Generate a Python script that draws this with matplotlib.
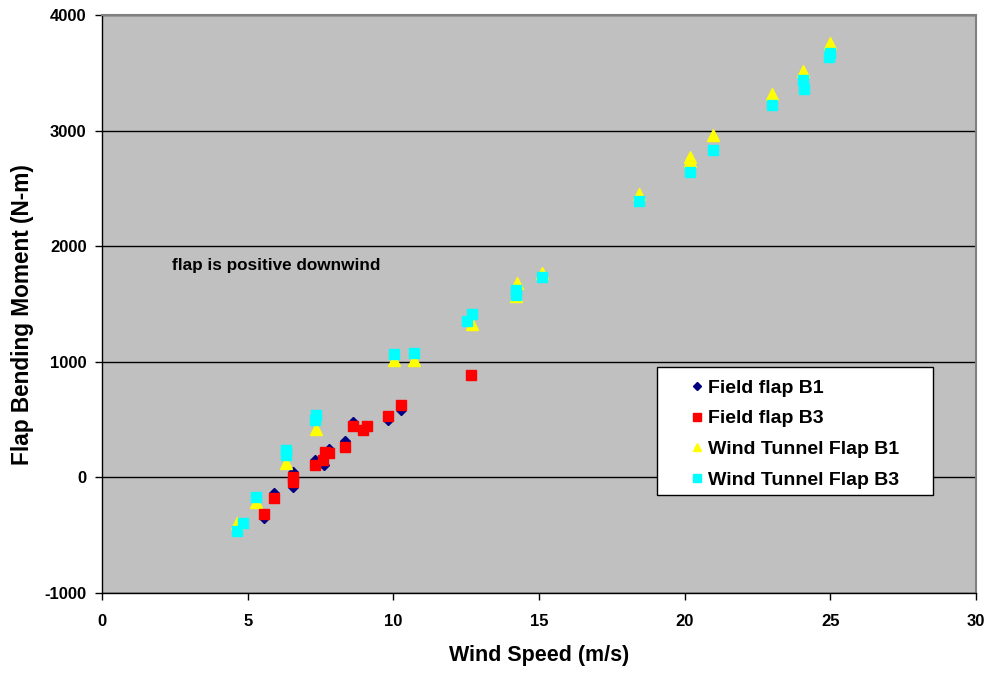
import matplotlib
matplotlib.use("Agg")
import matplotlib.pyplot as plt
from matplotlib.patches import Rectangle

plt.rcParams['font.family'] = ['Liberation Sans', 'DejaVu Sans']
plt.rcParams['font.weight'] = 'bold'
plt.rcParams['axes.unicode_minus'] = False

# Field flap B1 (navy diamonds)
b1_field_x = [5.56, 5.91, 6.56, 6.54, 7.30, 7.62, 7.80, 8.35, 8.62, 9.00, 9.82, 10.25, 12.65]
b1_field_y = [-349, -136, 46, -86, 147, 104, 248, 314, 478, 420, 493, 580, 890]

# Field flap B3 (red squares)
b3_field_x = [5.56, 5.91, 6.56, 6.54, 7.30, 7.60, 7.66, 7.78, 8.35, 8.62, 8.96, 9.11, 9.82, 10.25, 12.65]
b3_field_y = [-314, -179, 3, -40, 104, 150, 219, 213, 262, 441, 412, 441, 528, 629, 882]

# Wind tunnel flap B1 (yellow triangles)
b1_tunnel_x = [4.62, 5.30, 6.33, 7.34, 10.04, 10.71, 12.70, 14.25, 14.21, 15.10,
               18.44, 20.18, 20.18, 20.98, 23.01, 24.07, 24.98]
b1_tunnel_y = [-398, -213, 124, 421, 1012, 1018, 1330, 1681, 1570, 1771,
               2454, 2771, 2740, 2958, 3313, 3515, 3757]

# Wind tunnel flap B3 (cyan squares)
b3_tunnel_x = [4.84, 4.64, 5.30, 6.33, 6.31, 7.34, 7.32, 10.04, 10.71, 12.70, 12.53,
               14.21, 14.21, 15.10, 18.44, 20.18, 20.98, 23.01, 24.07, 24.10, 24.98, 24.95]
b3_tunnel_y = [-398, -464, -170, 234, 190, 536, 493, 1070, 1075, 1416, 1349,
               1618, 1580, 1733, 2390, 2641, 2834, 3218, 3434, 3362, 3670, 3636]

x_ticks = [0, 5, 10, 15, 20, 25, 30]
y_ticks = [-1000, 0, 1000, 2000, 3000, 4000]

W, H = 990, 673
fig = plt.figure(figsize=(W / 100, H / 100), dpi=100)
ax = fig.add_axes([102 / W, 1 - 593 / H, 874 / W, 578 / H])
ax.set_facecolor('#C0C0C0')

ax.plot(b1_field_x, b1_field_y, linestyle='none', marker='D', markersize=5,
        color='#000080', label='Field flap B1', zorder=3)
ax.plot(b3_field_x, b3_field_y, linestyle='none', marker='s', markersize=7.5,
        color='#FF0000', label='Field flap B3', zorder=4)
ax.plot(b1_tunnel_x, b1_tunnel_y, linestyle='none', marker='^', markersize=8,
        color='#FFFF00', label='Wind Tunnel Flap B1', zorder=3)
ax.plot(b3_tunnel_x, b3_tunnel_y, linestyle='none', marker='s', markersize=7,
        color='#00FFFF', label='Wind Tunnel Flap B3', zorder=4)

ax.set_xlim(0, 30)
ax.set_ylim(-1000, 4000)
ax.set_xticks(x_ticks, [str(t) for t in x_ticks], fontweight='bold', fontsize=12)
ax.set_yticks(y_ticks, [str(t) for t in y_ticks], fontweight='bold', fontsize=12)
ax.yaxis.grid(True, color='black', linewidth=1)
ax.set_axisbelow(True)

for s in ['top', 'right']:
    ax.spines[s].set_color('#808080')
    ax.spines[s].set_linewidth(1.5)
for s in ['left', 'bottom']:
    ax.spines[s].set_color('black')
    ax.spines[s].set_linewidth(1)

ax.tick_params(axis='both', direction='out', length=5, width=1)
ax.tick_params(axis='x', pad=10)
ax.tick_params(axis='y', pad=6)

ax.set_xlabel('Wind Speed (m/s)', fontsize=15.5, fontweight='bold', labelpad=12)
ax.set_ylabel('Flap Bending Moment (N-m)', fontsize=16.3, fontweight='bold')
ax.yaxis.set_label_coords(-0.0778, 0.481)

ax.text(2.4, 1834, 'flap is positive downwind', fontsize=12.3, fontweight='bold',
        va='center', ha='left')

# legend box like the excel one (wider than its text)
fig.patches.append(Rectangle((657 / W, 1 - 495 / H), 276 / W, 128 / H,
                             transform=fig.transFigure, facecolor='white',
                             edgecolor='black', linewidth=1, zorder=5))
leg = fig.legend(*ax.get_legend_handles_labels(), loc='upper left',
                 bbox_to_anchor=(691 / W, 1 - 379 / H), bbox_transform=fig.transFigure,
                 frameon=False, prop={'size': 14, 'weight': 'bold'},
                 handletextpad=0.27, handlelength=0.6, borderpad=0, borderaxespad=0,
                 labelspacing=0.68, markerscale=0.75)
leg.set_zorder(6)

fig.savefig('out.png', dpi=100)
